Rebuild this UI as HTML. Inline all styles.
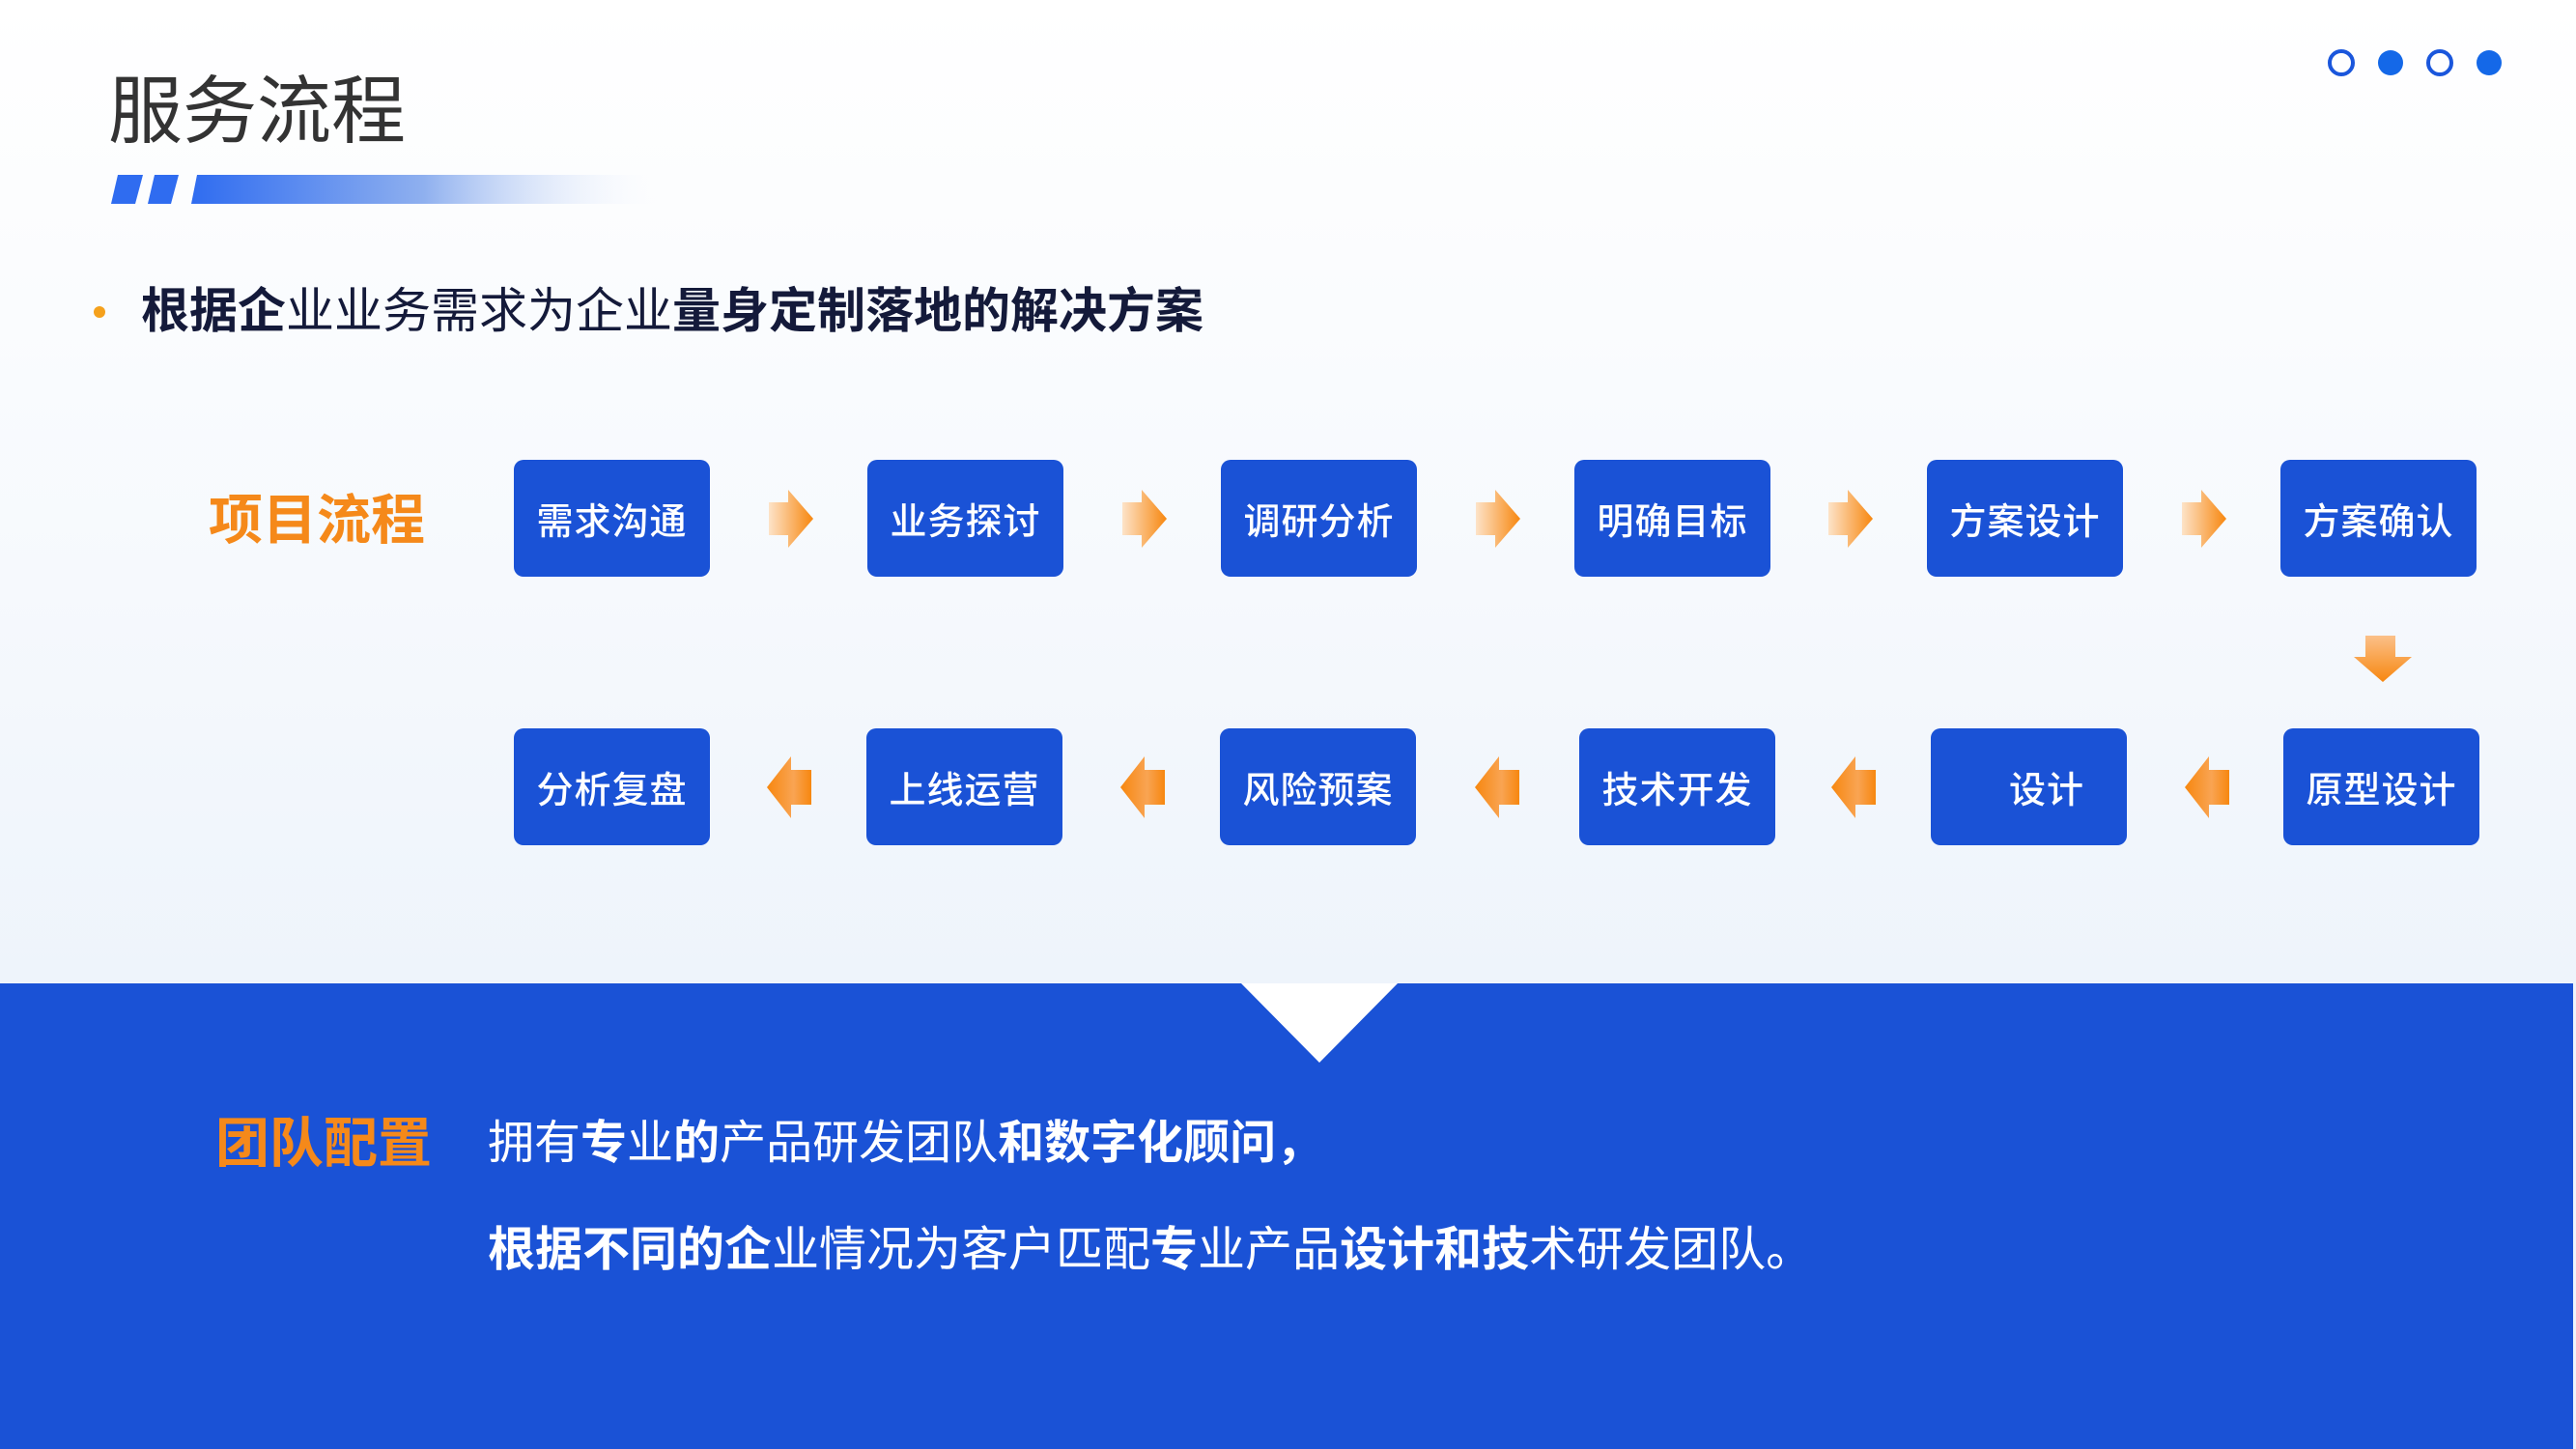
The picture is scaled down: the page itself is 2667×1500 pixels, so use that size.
<!DOCTYPE html>
<html><head><meta charset="utf-8"><style>
html,body{margin:0;padding:0}
body{width:2667px;height:1500px;overflow:hidden;position:relative;background:linear-gradient(180deg,#ffffff 0%,#f6f9fd 40%,#eef4fb 68%);font-family:"Liberation Sans","Noto Sans CJK SC",sans-serif}
.t{position:absolute;white-space:nowrap;line-height:1}
.box{position:absolute;width:203px;height:121px;background:#1a52d6;border-radius:10px;color:#fff;font-size:38px;display:flex;align-items:center;justify-content:center;letter-spacing:1px;font-weight:500}
b{font-weight:700}
</style></head><body>
<div class="t" style="left:112px;top:78px;font-size:77px;color:#333;">服务流程</div>
<svg style="position:absolute;left:0;top:0" width="2667" height="1500">
<defs>
<linearGradient id="bar" x1="0" x2="1"><stop offset="0" stop-color="#2f6cf0"/><stop offset="0.5" stop-color="#8fb0ef"/><stop offset="1" stop-color="#f4f7fd" stop-opacity="0"/></linearGradient>
<linearGradient id="ar" x1="0" x2="1"><stop offset="0" stop-color="#fde3c8"/><stop offset="1" stop-color="#f7870f"/></linearGradient>
<linearGradient id="al" x1="1" x2="0"><stop offset="0" stop-color="#f7870f"/><stop offset="0.4" stop-color="#f9a453"/><stop offset="1" stop-color="#f7870f"/></linearGradient>
<linearGradient id="ad" x1="0" x2="0" y1="0" y2="1"><stop offset="0" stop-color="#fbc089"/><stop offset="1" stop-color="#f7870f"/></linearGradient>
<symbol id="R" viewBox="0 0 46 60"><polygon points="0,13 20,13 20,0 46,30 20,60 20,47 0,47" fill="url(#ar)"/></symbol>
<symbol id="L" viewBox="0 0 46 64"><polygon points="46,14 25,14 25,0 0,32 25,64 25,50 46,50" fill="url(#al)"/></symbol>
</defs>
<polygon points="122,181 148,181 140,211 115,211" fill="#2f6cf0"/>
<polygon points="160,181 185,181 177,211 153,211" fill="#2f6cf0"/>
<polygon points="204,181 680,181 680,211 198,211" fill="url(#bar)"/>
<circle cx="2424" cy="65" r="12" fill="none" stroke="#1a56dc" stroke-width="4"/>
<circle cx="2475" cy="65" r="13" fill="#1468e8"/>
<circle cx="2526" cy="65" r="12" fill="none" stroke="#1a56dc" stroke-width="4"/>
<circle cx="2577" cy="65" r="13" fill="#1468e8"/>
<circle cx="103" cy="323" r="6" fill="#f5a11c"/>
<use href="#R" x="796" y="507" width="46" height="60"/>
<use href="#R" x="1162" y="507" width="46" height="60"/>
<use href="#R" x="1528" y="507" width="46" height="60"/>
<use href="#R" x="1893" y="507" width="46" height="60"/>
<use href="#R" x="2259" y="507" width="46" height="60"/>
<use href="#L" x="794" y="783" width="46" height="64"/>
<use href="#L" x="1160" y="783" width="46" height="64"/>
<use href="#L" x="1527" y="783" width="46" height="64"/>
<use href="#L" x="1896" y="783" width="46" height="64"/>
<use href="#L" x="2262" y="783" width="46" height="64"/>
<polygon points="2449,658 2480,658 2480,680 2497,680 2467,706 2437,680 2449,680" fill="url(#ad)"/>
<rect x="0" y="1018" width="2664" height="482" fill="#1a52d6"/>
<polygon points="1285,1018 1447,1018 1366,1100" fill="#fff"/>
</svg>
<div class="t" style="left:146px;top:297px;font-size:50px;color:#141a3a;"><b>根据企</b>业业务需求为企业<b>量身定制落地的解决方案</b></div>
<div class="t" style="left:216px;top:511px;font-size:56px;color:#f5891a;font-weight:700;">项目流程</div>
<div class="box" style="left:532px;top:476px">需求沟通</div>
<div class="box" style="left:898px;top:476px">业务探讨</div>
<div class="box" style="left:1264px;top:476px">调研分析</div>
<div class="box" style="left:1630px;top:476px">明确目标</div>
<div class="box" style="left:1995px;top:476px">方案设计</div>
<div class="box" style="left:2361px;top:476px">方案确认</div>
<div class="box" style="left:532px;top:754px">分析复盘</div>
<div class="box" style="left:897px;top:754px">上线运营</div>
<div class="box" style="left:1263px;top:754px">风险预案</div>
<div class="box" style="left:1635px;top:754px">技术开发</div>
<div class="box" style="left:1999px;top:754px;justify-content:flex-end;padding-right:44px;box-sizing:border-box">设计</div>
<div class="box" style="left:2364px;top:754px">原型设计</div>
<div class="t" style="left:223px;top:1156px;font-size:56px;color:#f5891a;font-weight:700;">团队配置</div>
<div class="t" style="left:505px;top:1160px;font-size:48px;color:#fff;">拥有<b>专</b>业<b>的</b>产品研发团队<b>和数字化顾问，</b></div>
<div class="t" style="left:505px;top:1270px;font-size:49px;color:#fff;"><b>根据不同的企</b>业情况为客户匹配<b>专</b>业产品<b>设计和技</b>术研发团队。</div>
</body></html>
